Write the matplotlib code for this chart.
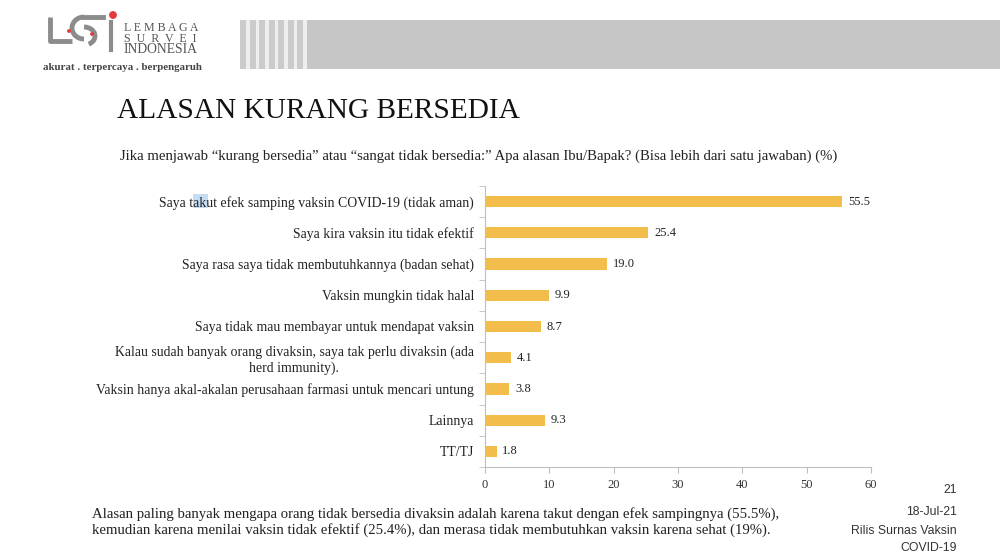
import numpy as np
import matplotlib
matplotlib.use("Agg")
import matplotlib.pyplot as plt
from matplotlib.patches import Rectangle, Circle, Arc

categories = [
    "Saya takut efek samping vaksin COVID-19 (tidak aman)",
    "Saya kira vaksin itu tidak efektif",
    "Saya rasa saya tidak membutuhkannya (badan sehat)",
    "Vaksin mungkin tidak halal",
    "Saya tidak mau membayar untuk mendapat vaksin",
    "Kalau sudah banyak orang divaksin, saya tak perlu divaksin (ada\nherd immunity).",
    "Vaksin hanya akal-akalan perusahaan farmasi untuk mencari untung",
    "Lainnya",
    "TT/TJ",
]
values = [55.5, 25.4, 19.0, 9.9, 8.7, 4.1, 3.8, 9.3, 1.8]
xticks = [0, 10, 20, 30, 40, 50, 60]

SERIF = "Liberation Serif"
SANS = "Liberation Sans"
BAR = "#F3BD4B"
GRID = "#BFBFBF"

fig = plt.figure(figsize=(10, 5.57), dpi=100)

# background / decoration layer in pixel coords
bg = fig.add_axes([0, 0, 1, 1])
bg.set_xlim(0, 1000); bg.set_ylim(557, 0); bg.axis("off")

# header banner
bg.add_patch(Rectangle((306, 20), 694, 49, color="#C6C6C6", lw=0))
for x0 in np.arange(240, 306, 9.5):
    bg.add_patch(Rectangle((x0, 20), 6, 49, color="#CBCBCB", lw=0))
    bg.add_patch(Rectangle((x0 + 6, 20), 3.5, 49, color="#EEEEEE", lw=0))

# logo (rough)
g = "#8C8C8C"
bg.plot([50, 50, 72], [17, 41, 41], color=g, lw=3.5, solid_capstyle="butt")
bg.add_patch(Arc((84, 28), 24, 22, theta1=90, theta2=270, color=g, lw=3.5))
bg.add_patch(Arc((84, 36), 22, 18, theta1=-90, theta2=60, color=g, lw=3.5))
bg.plot([84, 103], [17, 17], color=g, lw=3.5)
bg.plot([111, 111], [22, 50], color=g, lw=3)
bg.add_patch(Circle((113, 15), 3.2, color="#E23B3B"))
bg.add_patch(Circle((69, 31), 1.2, color="#E23B3B"))
bg.add_patch(Circle((92, 34), 1.2, color="#E23B3B"))
for t, yy, fs in [("L E M B A G A", 31, 8.6), ("S  U  R  V  E  I", 42, 8.6), ("INDONESIA", 53, 9.8)]:
    bg.text(124, yy, t, family=SERIF, fontsize=fs, color="#555555", va="baseline")
bg.text(43, 67, "akurat . terpercaya . berpengaruh", family=SERIF, fontsize=7.8,
        color="#444444", va="center", weight="bold")

bg.text(117, 111, "ALASAN KURANG BERSEDIA", family=SERIF, fontsize=21.2,
        color="#111111", va="center")
bg.text(120, 156, "Jika menjawab \u201ckurang bersedia\u201d atau \u201csangat tidak bersedia:\u201d "
        "Apa alasan Ibu/Bapak? (Bisa lebih dari satu jawaban) (%)",
        family=SERIF, fontsize=10.65, color="#222222", va="center")

# selection highlight seen in the source slide
bg.add_patch(Rectangle((193, 194), 15, 14, color="#C5DDF3", lw=0))

bg.text(92, 522, "Alasan paling banyak mengapa orang tidak bersedia divaksin adalah karena takut "
        "dengan efek sampingnya (55.5%),\nkemudian karena menilai vaksin tidak efektif (25.4%), "
        "dan merasa tidak membutuhkan vaksin karena sehat (19%).",
        family=SERIF, fontsize=10.6, color="#222222", va="center", linespacing=1.25)
for t, yy in [("21", 490), ("18-Jul-21", 512), ("Rilis Surnas Vaksin", 531), ("COVID-19", 548)]:
    bg.text(957, yy, t, family=SANS, fontsize=8.8, color="#333333", ha="right", va="center")

# main chart
ax = fig.add_axes([0.485, 1 - 467 / 557, 0.386, (467 - 186) / 557])
y = np.arange(len(values))
ax.barh(y, values, height=0.36, color=BAR)
for yi, v in zip(y, values):
    ax.text(v + 0.9, yi, f"{v:.1f}", family=SERIF, fontsize=9, color="#222222", va="center")
ax.set_ylim(len(values) - 0.5, -0.5)
ax.set_xlim(0, 60)
ax.set_xticks(xticks)
ax.set_xticklabels([str(t) for t in xticks], family=SERIF, fontsize=9, color="#333333")
ax.set_yticks(y)
ax.set_yticklabels(categories, family=SERIF, fontsize=9.9, color="#222222",
                   ha="right", multialignment="center")
ax.tick_params(axis="y", length=0, pad=8)
ax.set_yticks(np.arange(-0.5, len(values)), minor=True)
ax.tick_params(axis="y", which="minor", length=4, color=GRID)
ax.tick_params(axis="x", length=4, color=GRID, pad=5)
for s in ["top", "right"]:
    ax.spines[s].set_visible(False)
for s in ["left", "bottom"]:
    ax.spines[s].set_color(GRID)
    ax.spines[s].set_linewidth(0.8)
ax.patch.set_alpha(0)

fig.savefig("out.png", dpi=100)
